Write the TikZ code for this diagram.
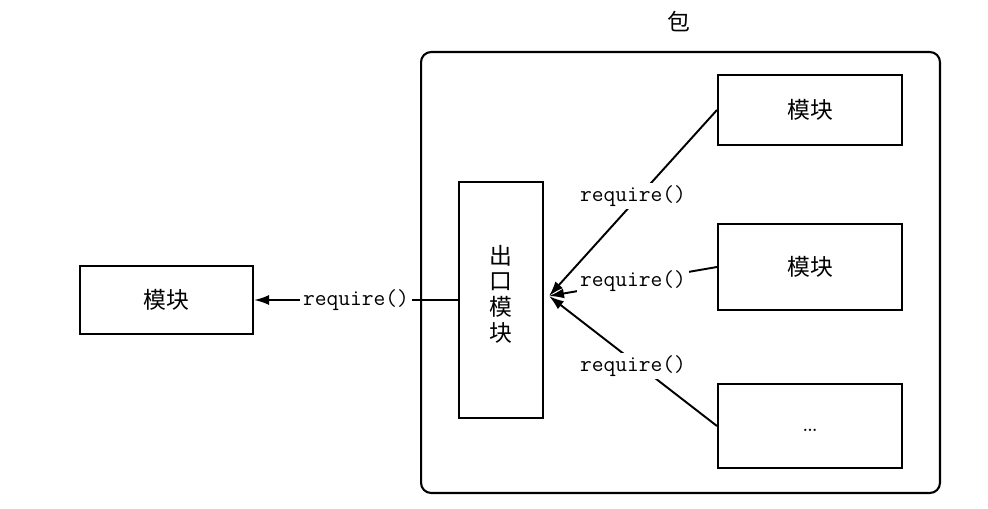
\documentclass[tikz,border=0pt]{standalone}
\usepackage{fontspec}
\newfontfamily\cjk{Noto Sans CJK SC}
\usetikzlibrary{arrows.meta}
\tikzset{box/.style={draw,line width=1.2pt,inner sep=0pt,font=\cjk\fontsize{13}{14.6}\selectfont},
  req/.style={font=\ttfamily\fontsize{13}{15}\selectfont,fill=white,inner sep=1.5pt},
  arr/.style={line width=1.1pt,-{Latex[length=3mm,width=2mm]}}}
\begin{document}
\begin{tikzpicture}[x=0.02cm,y=-0.02cm]
\useasboundingbox (0,0) rectangle (988,508);

\node [box,rounded corners=0.2cm,minimum width=10.38cm,minimum height=8.82cm] (p1) at (680.5,272.5) {};
\node [font=\cjk\fontsize{13}{14.6}\selectfont] (p2) at (679,22) {包};

\node [box,minimum width=3.46cm,minimum height=1.36cm] (m1) at (166.5,300) {模块};
\node [box,minimum width=1.68cm,minimum height=4.72cm] (e1) at (501,300) {};
\node [font=\cjk\fontsize{13}{14.6}\selectfont,align=center] (e2) at (501,294) {出\\口\\模\\块};
\node [box,minimum width=3.68cm,minimum height=1.4cm] (m2) at (810,110) {模块};
\node [box,minimum width=3.68cm,minimum height=1.72cm] (m3) at (810,267) {模块};
\node [box,minimum width=3.68cm,minimum height=1.68cm] (m4) at (810,426) {};
\node [font=\fontsize{16}{18}\selectfont] (m5) at (810,430) {\dots};

\coordinate (c1) at (549,296);
\draw [arr] (e1.west) -- node[req] {require()} (m1.east);
\draw [arr] (m2.west) -- node[req,yshift=0.14cm] {require()} (c1);
\draw [arr] (m3.west) -- node[req] {require()} (c1);
\draw [arr] (m4.west) -- node[req,yshift=-0.1cm] {require()} (c1);
\end{tikzpicture}
\end{document}
